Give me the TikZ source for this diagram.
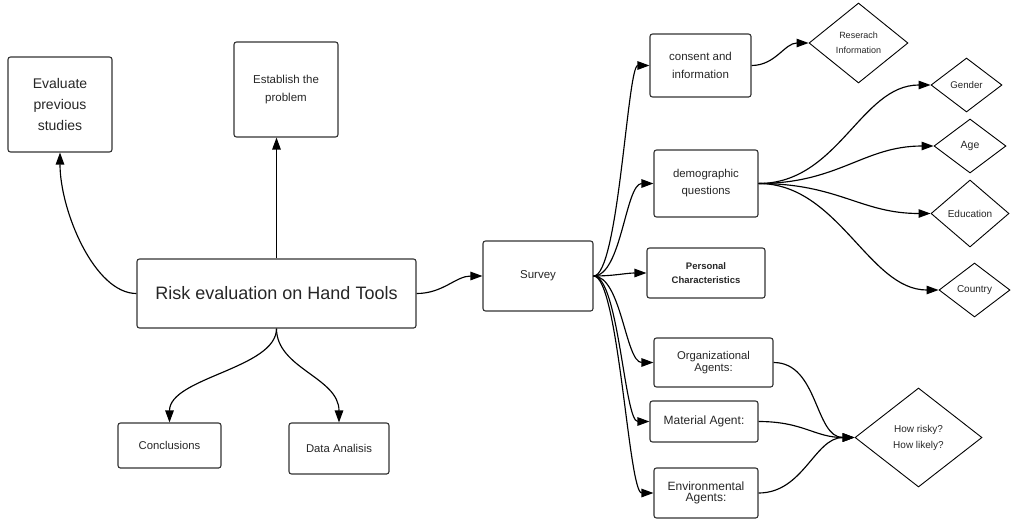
\documentclass[tikz,border=0pt]{standalone}
\usepackage{fontspec}
\setmainfont{Liberation Sans}
\usetikzlibrary{shapes.geometric,arrows.meta}
\begin{document}
\begin{tikzpicture}[x=1pt,y=-1pt,
 box/.style={draw=black!80,line width=1.1pt,rounded corners=2.5pt,align=center,inner sep=0pt,text=black!85},
 dia/.style={draw=black,line width=0.9pt,diamond,align=center,inner sep=0pt,text=black!85},
 conn/.style={line width=1.15pt,-{Triangle[length=12pt,width=8.5pt]}},
 ]
\useasboundingbox (0,0) rectangle (1017,520);
% boxes
\node[box,minimum width=104pt,minimum height=95pt,font=\fontsize{14}{21}\selectfont] (eval) at (60,104.5) {Evaluate\\previous\\studies};
\node[box,minimum width=104pt,minimum height=95pt,font=\fontsize{11.5}{18}\selectfont] (estab) at (286,89.5) {Establish the\\problem};
\node[box,minimum width=279pt,minimum height=69pt,font=\fontsize{18}{22}\selectfont] (risk) at (276.5,293.5) {Risk evaluation on Hand Tools};
\node[box,minimum width=103pt,minimum height=45pt,font=\fontsize{11.3}{14}\selectfont] (concl) at (169.5,445.5) {Conclusions};
\node[box,minimum width=100pt,minimum height=51pt,font=\fontsize{11.3}{14}\selectfont] (data) at (339,448.5) {Data Analisis};
\node[box,minimum width=110pt,minimum height=70pt,font=\fontsize{11.5}{14}\selectfont] (survey) at (538,276) {Survey};
\node[box,minimum width=101pt,minimum height=63pt,font=\fontsize{11.5}{17.5}\selectfont] (consent) at (700.5,65.5) {consent and\\information};
\node[box,minimum width=104pt,minimum height=67pt,font=\fontsize{11.4}{17}\selectfont] (demo) at (706,183.5) {demographic\\questions};
\node[box,minimum width=118pt,minimum height=50pt,font=\bfseries\fontsize{9.5}{14}\selectfont] (pers) at (706,273) {Personal\\Characteristics};
\node[box,minimum width=119pt,minimum height=49pt,font=\fontsize{11.3}{11.5}\selectfont] (org) at (713.5,362.5) {Organizational\\Agents:};
\node[box,minimum width=108pt,minimum height=41pt,font=\fontsize{12}{14}\selectfont] (mat) at (704,421.5) {Material Agent:};
\node[box,minimum width=104pt,minimum height=50pt,font=\fontsize{12}{11}\selectfont] (env) at (706,493) {Environmental\\Agents:};
% diamonds
\node[dia,minimum width=99pt,minimum height=80pt,font=\fontsize{9}{15}\selectfont] (res) at (858.5,43) {Reserach\\Information};
\node[dia,minimum width=71pt,minimum height=54pt,font=\fontsize{9.7}{12}\selectfont] (gender) at (966.5,85) {Gender};
\node[dia,minimum width=72pt,minimum height=54pt,font=\fontsize{10.5}{12}\selectfont] (age) at (970,146) {Age};
\node[dia,minimum width=78pt,minimum height=67pt,font=\fontsize{10}{12}\selectfont] (edu) at (970,213.5) {Education};
\node[dia,minimum width=71pt,minimum height=54pt,font=\fontsize{10}{12}\selectfont] (country) at (974.5,290) {Country};
\node[dia,minimum width=127pt,minimum height=99pt,font=\fontsize{10}{16}\selectfont] (risky) at (918.5,437.5) {How risky?\\How likely?};
% connectors
\draw[conn] (risk.north) -- (risk.north |- estab.south);
\draw[conn] (risk.west) .. controls +(-42,0) and +(0,58) .. (eval.south);
\draw[conn] (risk.south) .. controls +(0,40) and +(0,-45) .. (concl.north);
\draw[conn] (risk.south) .. controls +(0,40) and +(0,-45) .. (data.north);
\draw[conn] (risk.east) to[out=0,in=180] (survey.west);
\draw[conn] (survey.east) .. controls +(25,0) and +(-22,0) .. (consent.west);
\draw[conn] (survey.east) .. controls +(28,0) and +(-28,0) .. (demo.west);
\draw[conn] (survey.east) to[out=0,in=180] (pers.west);
\draw[conn] (survey.east) .. controls +(28,0) and +(-28,0) .. (org.west);
\draw[conn] (survey.east) .. controls +(25,0) and +(-25,0) .. (mat.west);
\draw[conn] (survey.east) .. controls +(25,0) and +(-25,0) .. (env.west);
\draw[conn] (consent.east) to[out=0,in=180] (res.west);
\draw[conn] (demo.east) .. controls +(80,0) and +(-70,0) .. (gender.west);
\draw[conn] (demo.east) .. controls +(80,0) and +(-70,0) .. (age.west);
\draw[conn] (demo.east) .. controls +(80,0) and +(-70,0) .. (edu.west);
\draw[conn] (demo.east) .. controls +(80,0) and +(-70,0) .. (country.west);
\draw[conn] (org.east) .. controls +(45,0) and +(-40,0) .. (risky.west);
\draw[conn] (mat.east) .. controls +(45,0) and +(-40,0) .. (risky.west);
\draw[conn] (env.east) .. controls +(45,0) and +(-40,0) .. (risky.west);
\end{tikzpicture}
\end{document}
